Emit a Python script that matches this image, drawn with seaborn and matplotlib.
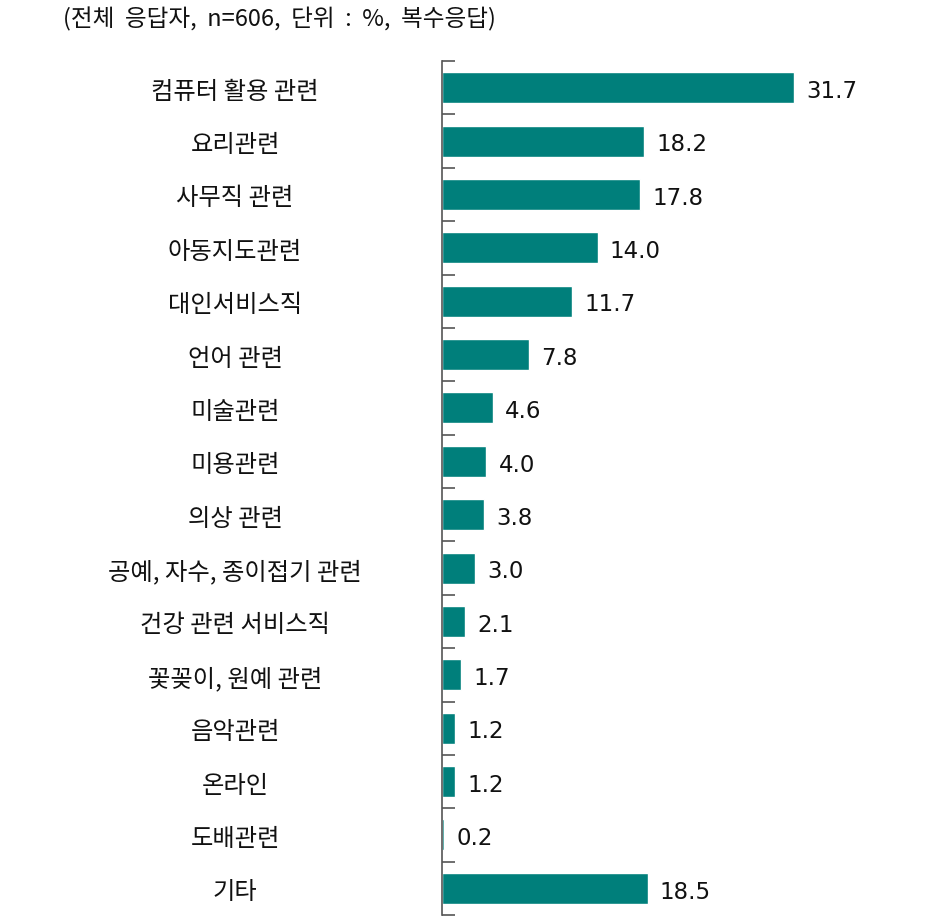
import matplotlib
matplotlib.use("Agg")
import matplotlib.pyplot as plt
import seaborn as sns
import pandas as pd

# Data
categories = ["컴퓨터 활용 관련", "요리관련", "사무직 관련", "아동지도관련", "대인서비스직",
              "언어 관련", "미술관련", "미용관련", "의상 관련", "공예, 자수, 종이접기 관련",
              "건강 관련 서비스직", "꽃꽂이, 원예 관련", "음악관련", "온라인", "도배관련", "기타"]
values = [31.7, 18.2, 17.8, 14.0, 11.7, 7.8, 4.6, 4.0, 3.8, 3.0, 2.1, 1.7, 1.2, 1.2, 0.2, 18.5]
value_labels = ["31.7", "18.2", "17.8", "14.0", "11.7", "7.8", "4.6", "4.0", "3.8", "3.0",
                "2.1", "1.7", "1.2", "1.2", "0.2", "18.5"]
note = "(전체  응답자,  n=606,  단위  :  %,  복수응답)"

df = pd.DataFrame({"category": categories, "value": values})

sns.set_style("white")
plt.rcParams["font.family"] = ["Noto Sans CJK KR", "DejaVu Sans"]

fig = plt.figure(figsize=(9.45, 9.2), dpi=100)
ax = fig.add_axes([0.4677, 0.0043, 0.52, 0.9283])

sns.barplot(data=df, x="value", y="category", color="#007F7B", saturation=1,
            width=0.58, ax=ax)

ax.set_xlim(0, 44.2)
ax.set_ylim(len(categories) - 0.5, -0.5)

for sp in ["top", "right", "bottom"]:
    ax.spines[sp].set_visible(False)
ax.spines["left"].set_color("#555555")
ax.spines["left"].set_linewidth(1.2)

ax.set_xticks([])
ax.set_xlabel("")
ax.set_ylabel("")

# category labels centered in left area
ax.set_yticks(range(len(categories)))
ax.set_yticklabels(categories, fontsize=17.5, ha="center", color="#111111")
ax.tick_params(axis="y", which="major", left=True, length=0, pad=149)

# boundary ticks pointing inward
ax.set_yticks([i - 0.5 for i in range(len(categories) + 1)], minor=True)
ax.tick_params(axis="y", which="minor", left=True, direction="in", length=9,
               width=1.2, color="#555555")

for i, (v, lab) in enumerate(zip(values, value_labels)):
    ax.text(v + 1.1, i + 0.05, lab, va="center", ha="left", fontsize=16.5,
            color="#111111", family=["DejaVu Sans"])

fig.text(0.067, 0.979, note, fontsize=17, va="center", ha="left", color="#111111")

fig.savefig("out.png", dpi=100)
